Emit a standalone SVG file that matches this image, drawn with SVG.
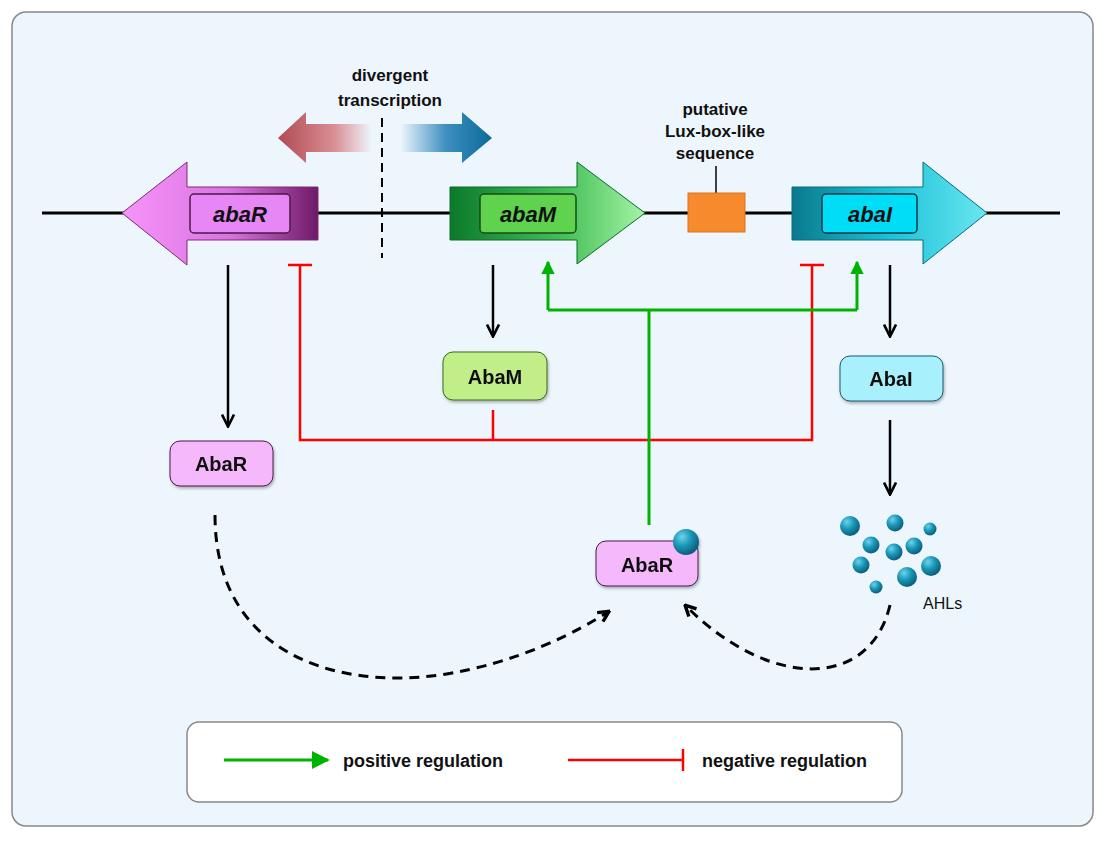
<svg xmlns="http://www.w3.org/2000/svg" width="1105" height="841" viewBox="0 0 1105 841">
<style>
text{font-family:"Liberation Sans",Arial,sans-serif;fill:#111}
.lbl{font-size:17px;text-anchor:middle;font-weight:600}
.gene{font-size:22px;font-style:italic;text-anchor:middle;font-weight:600}
.prot{font-size:20px;text-anchor:middle;font-weight:600}
.blk{stroke:#000;stroke-width:2.5;fill:none}
.red{stroke:#f00;stroke-width:2.5;fill:none}
.grn{stroke:#00b300;stroke-width:3;fill:none}
.dash{stroke:#000;stroke-width:3;fill:none;stroke-dasharray:10 7}
.ball{fill:url(#bg)}
</style>
<defs>
<marker id="ab" viewBox="0 0 10 10" refX="8" refY="5" markerWidth="6" markerHeight="6" orient="auto"><path d="M1,1L9,5L1,9" fill="none" stroke="#000" stroke-width="1.8"/></marker>
<marker id="ag" viewBox="0 0 10 10" refX="9" refY="5" markerWidth="4.5" markerHeight="4.5" orient="auto"><path d="M0,0L10,5L0,10z" fill="#00b300"/></marker>
<marker id="ag2" viewBox="0 0 10 10" refX="9" refY="5" markerWidth="6" markerHeight="6" orient="auto"><path d="M0,0L10,5L0,10z" fill="#00b300"/></marker>
<marker id="ad" viewBox="0 0 10 10" refX="8" refY="5" markerWidth="4.5" markerHeight="4.5" orient="auto"><path d="M1,1L9,5L1,9" fill="none" stroke="#000" stroke-width="2.5"/></marker>
<linearGradient id="gr" x1="0" x2="1"><stop offset="0" stop-color="#f794f9"/><stop offset="0.55" stop-color="#d874e0"/><stop offset="1" stop-color="#6e1a66"/></linearGradient>
<linearGradient id="gm" x1="0" x2="1"><stop offset="0" stop-color="#0b7a2a"/><stop offset="0.6" stop-color="#48c25a"/><stop offset="1" stop-color="#a6f3a6"/></linearGradient>
<linearGradient id="gi" x1="0" x2="1"><stop offset="0" stop-color="#0a7a8e"/><stop offset="0.5" stop-color="#1cc2d9"/><stop offset="1" stop-color="#6ae6f0"/></linearGradient>
<linearGradient id="gred" x1="0" x2="1"><stop offset="0" stop-color="#b04a52"/><stop offset="0.6" stop-color="#d98f94"/><stop offset="1" stop-color="#eef6fd"/></linearGradient>
<linearGradient id="gblu" x1="0" x2="1"><stop offset="0" stop-color="#eef6fd"/><stop offset="0.5" stop-color="#3d8fbf"/><stop offset="1" stop-color="#0a6a9a"/></linearGradient>
<radialGradient id="bg" cx="0.35" cy="0.3" r="0.7"><stop offset="0" stop-color="#6fd3ea"/><stop offset="0.5" stop-color="#1a97b8"/><stop offset="1" stop-color="#0c5f7c"/></radialGradient>
<filter id="sh"><feDropShadow dx="1" dy="2" stdDeviation="1.5" flood-opacity="0.3"/></filter>
</defs>
<rect x="12" y="12" width="1081" height="814" rx="14" fill="#eef6fd" stroke="#888" stroke-width="1.5"/>
<line x1="42" y1="213" x2="1060" y2="213" stroke="#000" stroke-width="3"/>
<line x1="382" y1="118" x2="382" y2="258" stroke="#000" stroke-width="2" stroke-dasharray="9 6"/>
<text class="lbl" x="390" y="81">divergent</text>
<text class="lbl" x="390" y="106">transcription</text>
<path d="M278,138L306,112V124H372V152H306V163Z" fill="url(#gred)"/>
<path d="M400,124H462V112L492,138L462,163V152H400Z" fill="url(#gblu)"/>
<g id="abaR"><path d="M122,213L187,162V187H318V240H187V265Z" fill="url(#gr)" stroke="#7a2a7a" stroke-width="1"/><rect x="190" y="194" width="100" height="39" rx="4" fill="#e787f5" stroke="#4a1a4a" stroke-width="1.5"/><text class="gene" x="240" y="222">abaR</text></g>
<g id="abaM"><path d="M450,187H577V162L645,213L577,264V240H450Z" fill="url(#gm)" stroke="#0a6a2a" stroke-width="1"/><rect x="480" y="194" width="96" height="39" rx="4" fill="#5fd24e" stroke="#1a4a1a" stroke-width="1.5"/><text class="gene" x="528" y="222">abaM</text></g>
<g id="luxbox"><line x1="716" y1="166" x2="716" y2="193" stroke="#000" stroke-width="1.5"/><rect x="688" y="193" width="57" height="39" fill="#f68a2c" stroke="#e07020"/><text class="lbl" x="715" y="115">putative</text><text class="lbl" x="715" y="137">Lux-box-like</text><text class="lbl" x="715" y="159">sequence</text></g>
<g id="abaI"><path d="M792,187H923V162L987,213L923,264V240H792Z" fill="url(#gi)" stroke="#0a6a7a" stroke-width="1"/><rect x="822" y="194" width="95" height="39" rx="4" fill="#00def7" stroke="#0a3a4a" stroke-width="1.5"/><text class="gene" x="870" y="222">abaI</text></g>
<g id="connectors">
<line class="blk" x1="228" y1="265" x2="228" y2="425" marker-end="url(#ab)"/>
<line class="blk" x1="493" y1="265" x2="493" y2="335" marker-end="url(#ab)"/>
<line class="blk" x1="890" y1="265" x2="890" y2="335" marker-end="url(#ab)"/>
<line class="blk" x1="890" y1="420" x2="890" y2="493" marker-end="url(#ab)"/>
<path class="red" d="M300,265V440H812V265M288,265H312M800,265H824M493,410V440"/>
<path class="grn" d="M649,525V310M548,310H857"/>
<line class="grn" x1="548" y1="310" x2="548" y2="262" marker-end="url(#ag)"/>
<line class="grn" x1="857" y1="310" x2="857" y2="262" marker-end="url(#ag)"/>
<path class="dash" d="M215,515C215,650 330,690 440,675C520,663 580,630 608,612" marker-end="url(#ad)"/>
<path class="dash" d="M890,605C870,690 770,690 686,606" marker-end="url(#ad)"/>
</g>
<g id="AbaM" filter="url(#sh)"><rect x="443" y="352" width="104" height="48" rx="10" fill="#c2ee8a" stroke="#3a6a1a"/><text class="prot" x="495" y="384">AbaM</text></g>
<g id="AbaI" filter="url(#sh)"><rect x="840" y="356" width="103" height="45" rx="10" fill="#a8f0fc" stroke="#1a5a6a"/><text class="prot" x="891" y="386">AbaI</text></g>
<g id="AbaR1" filter="url(#sh)"><rect x="170" y="441" width="103" height="45" rx="10" fill="#f5b8fb" stroke="#4a1a4a"/><text class="prot" x="221" y="471">AbaR</text></g>
<g id="AbaR2" filter="url(#sh)"><rect x="596" y="541" width="102" height="45" rx="10" fill="#f5b8fb" stroke="#4a1a4a"/><text class="prot" x="647" y="572">AbaR</text><circle class="ball" cx="686" cy="542" r="13"/></g>
<g id="AHLs">
<circle class="ball" cx="850" cy="526" r="10"/><circle class="ball" cx="895" cy="523" r="8.5"/><circle class="ball" cx="930" cy="529" r="6.5"/>
<circle class="ball" cx="871" cy="545" r="8.5"/><circle class="ball" cx="894" cy="552" r="8.5"/><circle class="ball" cx="914" cy="546" r="8.5"/>
<circle class="ball" cx="861" cy="565" r="8.5"/><circle class="ball" cx="931" cy="566" r="10"/><circle class="ball" cx="907" cy="577" r="10"/><circle class="ball" cx="876" cy="587" r="6.5"/>
<text x="923" y="609" style="font-size:16px">AHLs</text></g>
<g id="legend"><rect x="187" y="722" width="715" height="80" rx="12" fill="#fff" stroke="#888" stroke-width="1.5"/>
<line class="grn" x1="224" y1="760" x2="328" y2="760" marker-end="url(#ag2)"/>
<text x="343" y="767" style="font-size:18px;font-weight:600">positive regulation</text>
<path class="red" d="M568,760H683M683,749V771"/>
<text x="702" y="767" style="font-size:18px;font-weight:600">negative regulation</text></g>
</svg>
